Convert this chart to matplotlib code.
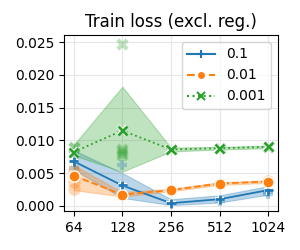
import matplotlib
matplotlib.use("Agg")
import matplotlib.pyplot as plt
import matplotlib.patheffects as pe
import numpy as np

# widths (x axis, log2)
widths = [64, 128, 256, 512, 1024]
labels = ["0.1", "0.01", "0.001"]
colors = ["#1f77b4", "#ff7f0e", "#2ca02c"]
markers = ["+", "o", "x"]
styles = ["-", "--", ":"]

# mean train loss per width
mean_01 = [0.0068, 0.0031, 0.0004, 0.0010, 0.0024]
mean_001 = [0.0046, 0.0017, 0.0024, 0.0034, 0.0037]
mean_0001 = [0.0082, 0.0115, 0.0086, 0.0088, 0.0090]

# band lower / upper
lo_01 = [0.0055, 0.0012, 0.0001, 0.0005, 0.0017]
hi_01 = [0.0085, 0.0050, 0.0010, 0.0016, 0.0030]
lo_001 = [0.0024, 0.0014, 0.0022, 0.0032, 0.0035]
hi_001 = [0.0062, 0.0021, 0.0026, 0.0036, 0.0039]
lo_0001 = [0.0077, 0.0052, 0.0083, 0.0086, 0.0088]
hi_0001 = [0.0093, 0.0182, 0.0089, 0.0090, 0.0092]

# individual runs that stick out
runs_x_01 = [64, 64, 128, 512, 1024, 1024]
runs_y_01 = [0.0058, 0.0080, 0.0063, 0.0007, 0.0018, 0.0021]
runs_x_001 = [64, 64, 64, 128, 256, 512, 1024]
runs_y_001 = [0.0026, 0.0036, 0.0055, 0.0016, 0.0024, 0.0034, 0.0038]
runs_x_0001 = [64, 64, 128, 128, 128, 128, 128, 256, 512, 1024]
runs_y_0001 = [0.0088, 0.0090, 0.0248, 0.0086, 0.0083, 0.0080, 0.0077, 0.0086, 0.0088, 0.0090]

means = [mean_01, mean_001, mean_0001]
los = [lo_01, lo_001, lo_0001]
his = [hi_01, hi_001, hi_0001]
runs = [(runs_x_01, runs_y_01), (runs_x_001, runs_y_001), (runs_x_0001, runs_y_0001)]

fig = plt.figure(figsize=(3, 2.5), dpi=100)
ax = fig.add_axes([0.213, 0.156, 0.714, 0.704])
ax.set_xscale("log", base=2)
ax.grid(True, color="#e6e6e6", linewidth=0.8)
ax.set_axisbelow(True)

halo = [pe.Stroke(linewidth=3, foreground="white"), pe.Normal()]

for i in range(3):
    c = colors[i]
    ax.fill_between(widths, los[i], his[i], color=c, alpha=0.3, linewidth=0.8)
    rx, ry = runs[i]
    mk = markers[i]
    if mk == "o":
        ax.scatter(rx, ry, s=80, marker=mk, color=c, alpha=0.3, linewidths=0, zorder=2)
    else:
        ax.scatter(rx, ry, s=45, marker=mk, color=c, alpha=0.3, linewidths=3, zorder=2)
    ax.plot(widths, means[i], color=c, linestyle=styles[i], linewidth=1.3, zorder=3)
    if mk == "o":
        ax.plot(widths, means[i], linestyle="none", marker="o", markersize=8,
                color=c, mec="white", mew=1.0, zorder=4)
    else:
        ax.plot(widths, means[i], linestyle="none", marker=mk, markersize=6.5,
                color=c, mew=2.0, zorder=4, path_effects=halo)
    ax.plot([], [], color=c, linestyle=styles[i], marker=mk,
            markersize=6, mew=1.5 if mk != "o" else 1.0,
            mec=c if mk != "o" else "white", label=labels[i])

ax.set_xticks(widths)
ax.set_xticklabels([str(w) for w in widths])
ax.minorticks_off()
ax.set_yticks([0.0, 0.005, 0.01, 0.015, 0.02, 0.025])
ax.set_yticklabels(["0.000", "0.005", "0.010", "0.015", "0.020", "0.025"])
ax.set_ylim(-0.0008, 0.0261)
ax.set_title("Train loss (excl. reg.)")
ax.legend(loc="upper right")

fig.savefig("out.png", dpi=100)
